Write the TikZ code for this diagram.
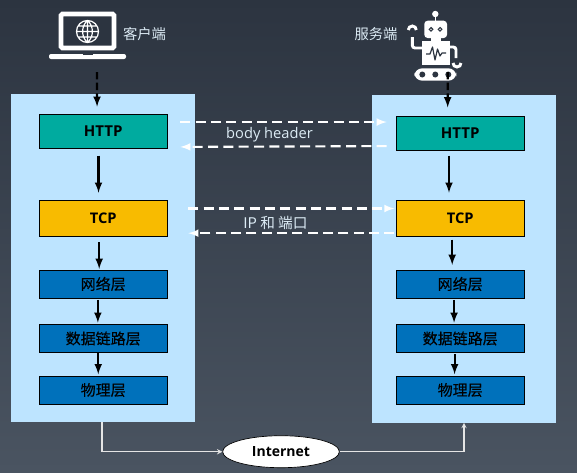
\documentclass[tikz,border=0pt]{standalone}
\usepackage{fontspec}
\setmainfont{Open Sans}
\newfontfamily\cjk{Noto Sans CJK SC}
\newfontfamily\cjkmed[FakeBold=0.35]{Noto Sans CJK SC}
\usetikzlibrary{shapes.geometric, arrows, positioning}
\definecolor{panelblue}{HTML}{BDE4FF}
\definecolor{httpgreen}{HTML}{00AB9F}
\definecolor{tcpyellow}{HTML}{F8BB00}
\definecolor{layerblue}{HTML}{0071BB}
\definecolor{bgtop}{HTML}{2C3440}
\definecolor{bgbottom}{HTML}{4A5461}
\definecolor{labelgrey}{HTML}{DCEBF5}
\tikzstyle{panel} = [rectangle, minimum width=138pt, fill=panelblue, inner sep=0pt]
\tikzstyle{layer} = [rectangle, minimum width=96pt, inner sep=0pt, draw=black, line width=0.7pt, text=black]
\tikzstyle{http} = [layer, minimum height=25.5pt, fill=httpgreen, font=\bfseries\fontsize{11.25}{12}\selectfont]
\tikzstyle{tcp} = [layer, minimum height=27pt, fill=tcpyellow, font=\bfseries\fontsize{11}{12}\selectfont]
\tikzstyle{lower} = [layer, minimum height=21pt, fill=layerblue, font=\cjkmed\fontsize{11.25}{12}\selectfont]
\tikzstyle{arrow} = [line width=1.6pt,->,>=latex,black]
\tikzstyle{dasharrow} = [arrow, dash pattern=on 5.5pt off 2.5pt]
\tikzstyle{whitearrow} = [line width=1.6pt,->,>=latex,white, dash pattern=on 7.5pt off 4pt]
\tikzstyle{wire} = [line width=0.8pt,->,>=stealth,white!90!black]
\tikzstyle{caption} = [text=labelgrey, font=\cjk\fontsize{10.75}{12}\selectfont]
\begin{document}
\begin{tikzpicture}[x=0.75pt, y=-0.75pt]

\shade [top color=bgtop, bottom color=bgbottom] (0,0) rectangle (577,472);
\useasboundingbox (0,0) rectangle (577,472);

%% NODES

\node (clientbox) [panel, minimum height=246pt] at (103,257.5) {};
\node (serverbox) [panel, minimum height=246pt] at (464,258.5) {};

\node (http1) [http] at (103.2,131.5) {HTTP};
\node (tcp1) [tcp] at (103.2,218.5) {TCP};
\node (net1) [lower] at (103.2,284) {网络层};
\node (link1) [lower] at (103.2,338.5) {数据链路层};
\node (phy1) [lower] at (103.2,390) {物理层};

\node (http2) [http] at (460.2,133.5) {HTTP};
\node (tcp2) [tcp] at (460.2,218.5) {TCP};
\node (net2) [lower] at (460.2,284) {网络层};
\node (link2) [lower] at (460.2,338.5) {数据链路层};
\node (phy2) [lower] at (460.2,390) {物理层};

\node (internet) [ellipse, fill=white, draw=black, line width=0.5pt, minimum width=87.5pt, minimum height=24pt, inner sep=0pt, font=\bfseries\fontsize{10.5}{12}\selectfont] at (281,451.7) {Internet};

\node (clientlabel) [caption] at (144.5,34) {客户端};
\node (serverlabel) [caption] at (376,34) {服务端};
\node (bodylabel) [caption, font=\fontsize{11}{12}\selectfont] at (269.5,134.5) {body header};
\node (iplabel) [caption, font=\cjk\fontsize{11}{12}\selectfont] at (275.5,222.5) {IP 和 端口};

\coordinate (laptop) at (97,72);
\coordinate (robot) at (447.7,72);

%% LAPTOP

\draw [white, line width=3.5pt, rounded corners=1pt, fill=bgtop] (61,14) rectangle (114,48);
\fill [white, rounded corners=1.5pt] (49,54) rectangle (126,59);
\draw [white, line width=0.9pt] (87.5,31.5) circle (11)
  (76.5,31.5) -- (98.5,31.5)
  (87.5,20.5) -- (87.5,42.5)
  (78,26) -- (97,26)
  (78,37) -- (97,37)
  (87.5,20.5) .. controls (81,26) and (81,37) .. (87.5,42.5)
  (87.5,20.5) .. controls (94,26) and (94,37) .. (87.5,42.5);
\fill [bgtop] (83,54) rectangle (92.5,55.2);

%% ROBOT

\fill [white] (435.3,14) circle (3.2);
\draw [white, line width=1.2pt] (435.3,14) -- (435.3,22);
\fill [white, rounded corners=2.5pt] (424.3,20.7) rectangle (447,38);
\draw [bgtop, line width=0.8pt, fill=white] (431,29.3) circle (1.8) (440,29.3) circle (1.8);
\fill [white] (431,38) rectangle (440.5,41);
\fill [white] (421.7,41) rectangle (449.7,65);
\draw [bgtop, line width=0.9pt, line join=round] (426,54) -- (430,54) -- (432.5,47) -- (435,60) -- (437.5,49) -- (440,56) -- (442,53) -- (446,53);
\draw [white, line width=2.2pt, rounded corners=2pt] (422,48) -- (412.3,48) -- (412.3,37);
\draw [white, line width=2.2pt] (412.3,33) ++(-4,-3) arc [start angle=180, end angle=360, radius=4];
\draw [white, line width=2.2pt, rounded corners=2pt] (449,47) -- (456,47) -- (456,58);
\draw [white, line width=2.2pt] (457,63) ++(-4,0) arc [start angle=180, end angle=0, radius=4];
\fill [white, rounded corners=6pt] (414.3,68.3) rectangle (456.3,80.7);
\fill [bgtop] (422.3,74.5) circle (3) (435.3,74.5) circle (3) (448.3,74.5) circle (3);

%% ARROWS

\draw [dasharrow] (laptop) -- ([xshift=-4.6pt,yshift=5.5pt]http1.north);
\draw [dasharrow] (robot) -- ([xshift=-9.4pt,yshift=6.5pt]http2.north);

\draw [arrow, shorten <=5pt, shorten >=5.5pt] ([xshift=-3.5pt]http1.south) -- ([xshift=-3.5pt]tcp1.north);
\draw [arrow, shorten <=4pt, shorten >=0.5pt] ([xshift=-3pt]tcp1.south) -- ([xshift=-3pt]net1.north);
\draw [arrow, shorten <=1pt, shorten >=1pt] ([xshift=-4pt]net1.south) -- ([xshift=-4pt]link1.north);
\draw [arrow, shorten >=1pt] ([xshift=-3.7pt]link1.south) -- ([xshift=-3.7pt]phy1.north);

\draw [arrow, shorten <=3.5pt, shorten >=5.5pt] ([xshift=-8.4pt]http2.south) -- ([xshift=-8.4pt]tcp2.north);
\draw [arrow, shorten <=2pt, shorten >=3.5pt] ([xshift=-6pt]tcp2.south) -- ([xshift=-6pt]net2.north);
\draw [arrow, shorten <=1pt, shorten >=1pt] ([xshift=-4.6pt]net2.south) -- ([xshift=-4.6pt]link2.north);
\draw [arrow, shorten <=1pt, shorten >=1pt] ([xshift=-4.2pt]link2.south) -- ([xshift=-4.2pt]phy2.north);

\draw [whitearrow, shorten <=9.5pt, shorten >=6.75pt] ([yshift=7.1pt]http1.east) -- ([yshift=8.6pt]http2.west);
\draw [whitearrow, shorten <=6.75pt, shorten >=9.5pt] ([yshift=-9.4pt]http2.west) -- ([yshift=-11.6pt]http1.east);
\draw [whitearrow, shorten <=15.5pt, shorten >=1pt] ([yshift=7.5pt]tcp1.east) -- ([yshift=7.5pt]tcp2.west);
\draw [whitearrow, shorten <=1pt, shorten >=15.5pt] ([yshift=-11pt]tcp2.west) -- ([yshift=-11pt]tcp1.east);

\draw [wire] ([xshift=-0.75pt]clientbox.south) |- (internet.west);
\draw [wire] (internet.east) -| (serverbox.south);

\end{tikzpicture}
\end{document}
